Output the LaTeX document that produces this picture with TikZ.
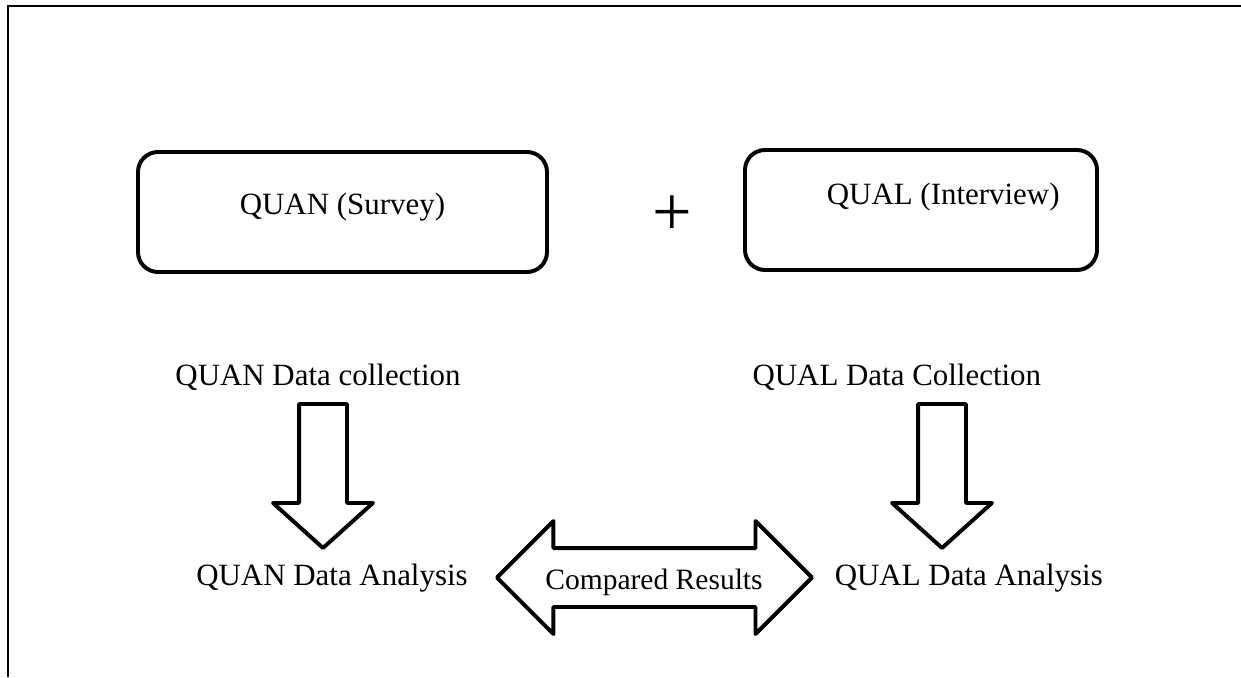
\documentclass[tikz,border=0pt]{standalone}
\usepackage{fontspec}
\setmainfont{Liberation Serif}
\usetikzlibrary{shapes.arrows}

\begin{document}
\begin{tikzpicture}[
        method/.style={draw, line width=1.4pt, rounded corners=0.25cm, minimum height=1.5cm},
        phasetext/.style={font=\fontsize{11}{13}\selectfont, anchor=base, inner sep=0pt},
        downarrow/.style={draw, line width=1.4pt, line join=round, single arrow, shape border rotate=270,
            single arrow tip angle=96, single arrow head extend=0.325cm, inner sep=0.275cm,
            minimum height=1.8cm, anchor=tail},
        bothways/.style={draw, line width=1.4pt, line join=round, double arrow,
            double arrow head extend=0.3375cm, inner sep=0.34375cm, minimum height=3.9375cm}
    ]
        \useasboundingbox (0,0) rectangle (15.5125,-8.4625);
        % page rule along the top and the left
        \draw[line width=0.7pt] (0.1,-8.4625) -- (0.1,-0.075) -- (15.5125,-0.075);

        % the two strands, run side by side
        \node[method, minimum width=5.1125cm] (quan) at (4.281,-2.65) {};
        \node[method, minimum width=4.4cm] (qual) at (11.5125,-2.625) {};
        \node[phasetext] (quan-label) at (4.281,-2.6875) {QUAN (Survey)};
        \node[phasetext] (qual-label) at (11.79,-2.5625) {QUAL (Interview)};
        \node[font=\fontsize{25}{30}\selectfont] (plus) at (8.4,-2.7) {+};

        % collection and analysis steps
        \node[phasetext] (quan-collect) at (3.975,-4.8125) {QUAN Data collection};
        \node[phasetext] (qual-collect) at (11.21,-4.8125) {QUAL Data Collection};
        \node[phasetext] (quan-analysis) at (4.15,-7.3125) {QUAN Data Analysis};
        \node[phasetext] (qual-analysis) at (12.11,-7.3125) {QUAL Data Analysis};

        % block arrows between the steps
        \foreach \side/\x in {quan/4.0375, qual/11.775} {
            \node[downarrow] (\side-down) at (\x,-5.025) {};
        }
        \node[bothways] (compare) at (8.181,-7.219) {};
        \node[phasetext, font=\fontsize{10.5}{12}\selectfont] (compare-text) at (8.175,-7.3625) {Compared Results};
    \end{tikzpicture}
\end{document}
